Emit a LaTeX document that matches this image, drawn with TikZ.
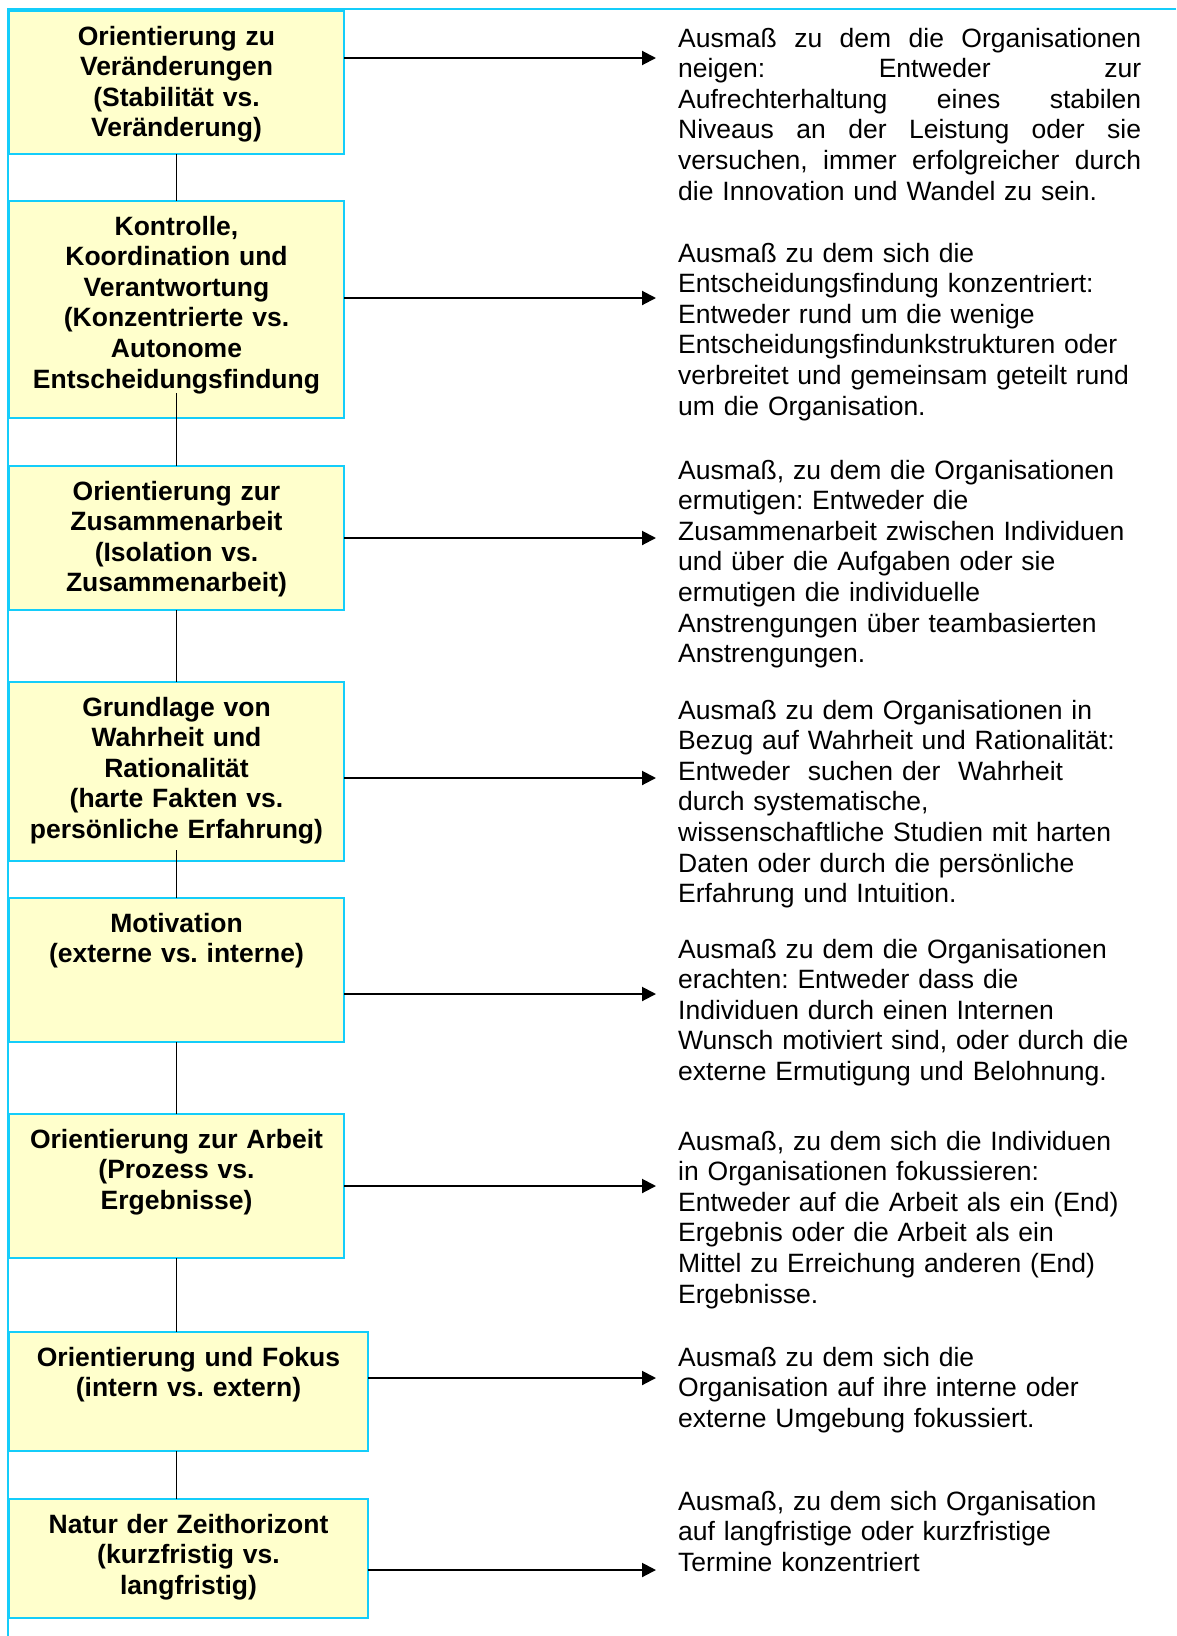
\documentclass[tikz,border=0pt]{standalone}
\usepackage{fontspec}
\setmainfont{Liberation Sans}
\usetikzlibrary{arrows.meta}
\frenchspacing

\definecolor{boxline}{RGB}{20,205,250}
\definecolor{boxfill}{RGB}{255,255,204}

% one justified line of the first description
\newcommand\jline[1]{\leavevmode\hbox to 463pt{\spaceskip=.278em plus 1fil\relax #1}}

\begin{document}
\begin{tikzpicture}[
x=1pt,y=-1pt,
>={Triangle[length=14pt,width=14pt]},
thing/.style={rectangle,draw=boxline,line width=2pt,fill=boxfill,anchor=north west,outer sep=0pt,
  font=\bfseries\fontsize{26.5}{30.6}\selectfont,align=center,text width=319pt,
  inner xsep=8pt,inner ysep=0pt,text height=34pt,text depth=#1},
thing/.default=109pt,
wide/.style={text width=343pt},
desc/.style={anchor=base west,align=left,text width=490pt,inner sep=0pt,font=\fontsize{26.5}{30.6}\selectfont},
line/.style={draw,line width=2pt,->},
line2/.style={draw,line width=1.6pt}
]
\useasboundingbox (0,0) rectangle (1176,1636);

% frame
\draw[boxline,line width=2pt] (1176,9) -- (8,9) -- (8,1636);

% dimensions
\node[thing=109pt] (d1) at (9,11) {Orientierung zu\\Veränderungen\\(Stabilität vs.\\Veränderung)};
\node[thing=183pt] (d2) at (9,201) {Kontrolle,\\Koordination und\\Verantwortung\\(Konzentrierte vs.\\Autonome\\Entscheidungsfindung};
\node[thing=110pt] (d3) at (9,466) {Orientierung zur\\Zusammenarbeit\\(Isolation vs.\\Zusammenarbeit)};
\node[thing=145pt] (d4) at (9,682) {Grundlage von\\Wahrheit und\\Rationalität\\(harte Fakten vs.\\persönliche Erfahrung)};
\node[thing=110pt] (d5) at (9,898) {Motivation\\(externe vs. interne)};
\node[thing=110pt] (d6) at (9,1114) {Orientierung zur Arbeit\\(Prozess vs.\\Ergebnisse)};
\node[thing=85pt,wide] (d7) at (9,1332) {Orientierung und Fokus\\(intern vs. extern)};
\node[thing=85pt,wide] (d8) at (9,1499) {Natur der Zeithorizont\\(kurzfristig vs.\\langfristig)};

% vertical links
\path[line2] (d1.south) -- (d2.north);
\path[line2] ([yshift=25pt]d2.south) -- (d3.north);
\path[line2] (d3.south) -- (d4.north);
\path[line2] ([yshift=11pt]d4.south) -- (d5.north);
\path[line2] (d5.south) -- (d6.north);
\path[line2] (d6.south) -- (d6.south |- d7.north);
\path[line2] (d6.south |- d7.south) -- (d6.south |- d8.north);

% arrow ends
\coordinate (c1) at (656,58);
\coordinate (c2) at (656,298);
\coordinate (c3) at (656,538);
\coordinate (c4) at (656,778);
\coordinate (c5) at (656,994);
\coordinate (c6) at (656,1186);
\coordinate (c7) at (656,1378);
\coordinate (c8) at (656,1570);

\path[line] (d1.east |- c1) -- (c1);
\path[line] (d2.east |- c2) -- (c2);
\path[line] (d3.east |- c3) -- (c3);
\path[line] (d4.east |- c4) -- (c4);
\path[line] (d5.east |- c5) -- (c5);
\path[line] (d6.east |- c6) -- (c6);
\path[line] (d7.east |- c7) -- (c7);
\path[line] (d8.east |- c8) -- (c8);

% descriptions
\node[desc] (t1) at (678,47) {\jline{Ausmaß zu dem die Organisationen}\\
  \jline{neigen: Entweder zur}\\
  \jline{Aufrechterhaltung eines stabilen}\\
  \jline{Niveaus an der Leistung oder sie}\\
  \jline{versuchen, immer erfolgreicher durch}\\
  die Innovation und Wandel zu sein.};
\node[desc] (t2) at (678,262) {Ausmaß zu dem sich die\\Entscheidungsfindung konzentriert:\\Entweder rund um die wenige\\Entscheidungsfindunkstrukturen oder\\verbreitet und gemeinsam geteilt rund\\um die Organisation.};
\node[desc] (t3) at (678,479) {Ausmaß, zu dem die Organisationen\\ermutigen: Entweder die\\Zusammenarbeit zwischen Individuen\\und über die Aufgaben oder sie\\ermutigen die individuelle\\Anstrengungen über teambasierten\\Anstrengungen.};
\node[desc] (t4) at (678,719) {Ausmaß zu dem Organisationen in\\Bezug auf Wahrheit und Rationalität:\\Entweder\ \ suchen der\ \ Wahrheit\\durch systematische,\\wissenschaftliche Studien mit harten\\Daten oder durch die persönliche\\Erfahrung und Intuition.};
\node[desc] (t5) at (678,958) {Ausmaß zu dem die Organisationen\\erachten: Entweder dass die\\Individuen durch einen Internen\\Wunsch motiviert sind, oder durch die\\externe Ermutigung und Belohnung.};
\node[desc] (t6) at (678,1150) {Ausmaß, zu dem sich die Individuen\\in Organisationen fokussieren:\\Entweder auf die Arbeit als ein (End)\\Ergebnis oder die Arbeit als ein\\Mittel zu Erreichung anderen (End)\\Ergebnisse.};
\node[desc] (t7) at (678,1366) {Ausmaß zu dem sich die\\Organisation auf ihre interne oder\\externe Umgebung fokussiert.};
\node[desc] (t8) at (678,1510) {Ausmaß, zu dem sich Organisation\\auf langfristige oder kurzfristige\\Termine konzentriert};

\end{tikzpicture}
\end{document}
